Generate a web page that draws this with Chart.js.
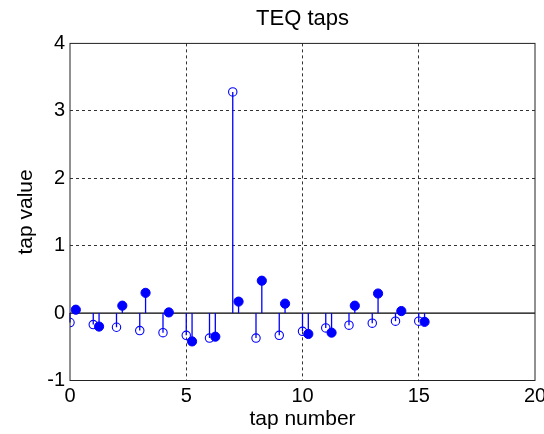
<!DOCTYPE html>
<html>
<head>
<meta charset="utf-8">
<script src="https://cdn.jsdelivr.net/npm/chart.js@4"></script>
<style>
  html, body { margin: 0; padding: 0; background: #fff; }
  #wrap { width: 544px; height: 434px; }
</style>
</head>
<body>
<div id="wrap"><canvas id="tapsChart"></canvas></div>
<script>
// open markers sit on the integer taps, filled ones a quarter tap to the right
const openTaps = [0, 1, 2, 3, 4, 5, 6, 7, 8, 9, 10, 11, 12, 13, 14, 15];
const openValues = [-0.14, -0.17, -0.21, -0.26, -0.29, -0.33, -0.37, 3.28,
                    -0.37, -0.33, -0.27, -0.22, -0.18, -0.15, -0.12, -0.12];
const filledTaps = [0.25, 1.25, 2.25, 3.25, 4.25, 5.25, 6.25, 7.25,
                    8.25, 9.25, 10.25, 11.25, 12.25, 13.25, 14.25, 15.25];
const filledValues = [0.05, -0.20, 0.11, 0.30, 0.01, -0.42, -0.35, 0.17,
                      0.48, 0.14, -0.31, -0.29, 0.11, 0.29, 0.03, -0.13];
const xTicks = [0, 5, 10, 15, 20];
const yTicks = [-1, 0, 1, 2, 3, 4];

const font = "'Liberation Sans', Arial, sans-serif";
const blue = "#0000ff";

const toPoints = (xs, ys) => xs.map((x, i) => ({ x: x, y: ys[i] }));

// stems from the zero baseline, the baseline itself and the box round the axes
const stemPlugin = {
  id: "stems",
  beforeDatasetsDraw(chart) {
    const { ctx, chartArea, scales } = chart;
    const y0 = scales.y.getPixelForValue(0);
    ctx.save();
    ctx.strokeStyle = "#000";
    ctx.lineWidth = 1.2;
    ctx.beginPath();
    ctx.moveTo(chartArea.left, y0);
    ctx.lineTo(chartArea.right, y0);
    ctx.stroke();
    ctx.strokeStyle = blue;
    ctx.lineWidth = 1.3;
    chart.data.datasets.forEach((ds, i) => {
      chart.getDatasetMeta(i).data.forEach(pt => {
        ctx.beginPath();
        ctx.moveTo(pt.x, y0);
        ctx.lineTo(pt.x, pt.y);
        ctx.stroke();
      });
    });
    ctx.restore();
  },
  afterDraw(chart) {
    const { ctx, chartArea } = chart;
    ctx.save();
    ctx.strokeStyle = "#222";
    ctx.lineWidth = 1;
    ctx.strokeRect(chartArea.left, chartArea.top,
                   chartArea.right - chartArea.left, chartArea.bottom - chartArea.top);
    ctx.restore();
  }
};

const gridColor = ctx => {
  const v = ctx.tick ? ctx.tick.value : null;
  if (ctx.scale.axis === "y" && (v === 0 || v === -1 || v === 4)) return "rgba(0,0,0,0)";
  if (ctx.scale.axis === "x" && (v === 0 || v === 20)) return "rgba(0,0,0,0)";
  return "#333";
};

new Chart(document.getElementById("tapsChart"), {
  type: "scatter",
  data: {
    datasets: [
      {
        label: "taps",
        data: toPoints(openTaps, openValues),
        pointStyle: "circle",
        pointRadius: 4.2,
        borderWidth: 1.1,
        borderColor: blue,
        backgroundColor: "rgba(0,0,0,0)"
      },
      {
        label: "taps (shifted)",
        data: toPoints(filledTaps, filledValues),
        pointStyle: "circle",
        pointRadius: 4.6,
        borderWidth: 1,
        borderColor: blue,
        backgroundColor: blue
      }
    ]
  },
  options: {
    responsive: true,
    maintainAspectRatio: false,
    animation: false,
    layout: { padding: { left: 0, right: 9, top: 0, bottom: 0 } },
    plugins: {
      legend: { display: false },
      tooltip: { enabled: false },
      title: {
        display: true,
        text: "TEQ taps",
        fullSize: false,
        color: "#000",
        font: { family: font, size: 22, weight: "normal" },
        padding: { top: 6, bottom: 11 }
      }
    },
    scales: {
      x: {
        type: "linear",
        min: 0,
        max: 20,
        afterBuildTicks: s => { s.ticks = xTicks.map(v => ({ value: v })); },
        afterFit: s => { s.height = 53.5; s.paddingLeft = 0; s.paddingRight = 0; },
        ticks: {
          color: "#000",
          padding: 4,
          maxRotation: 0,
          font: { family: font, size: 20 }
        },
        grid: { color: gridColor, lineWidth: 1, drawTicks: false },
        border: { display: false, dash: [3, 3] },
        title: {
          display: true,
          text: "tap number",
          color: "#000",
          font: { family: font, size: 21 },
          padding: { top: 0, bottom: 2 }
        }
      },
      y: {
        min: -1,
        max: 4,
        afterBuildTicks: s => { s.ticks = yTicks.map(v => ({ value: v })); },
        afterFit: s => { s.width = 70; s.paddingTop = 0; s.paddingBottom = 0; },
        ticks: {
          color: "#000",
          padding: 5,
          font: { family: font, size: 20 }
        },
        grid: { color: gridColor, lineWidth: 1, drawTicks: false },
        border: { display: false, dash: [3, 3] },
        title: {
          display: true,
          text: "tap value",
          color: "#000",
          font: { family: font, size: 21 },
          padding: { top: 14, bottom: 0 }
        }
      }
    }
  },
  plugins: [stemPlugin]
});
</script>
</body>
</html>
